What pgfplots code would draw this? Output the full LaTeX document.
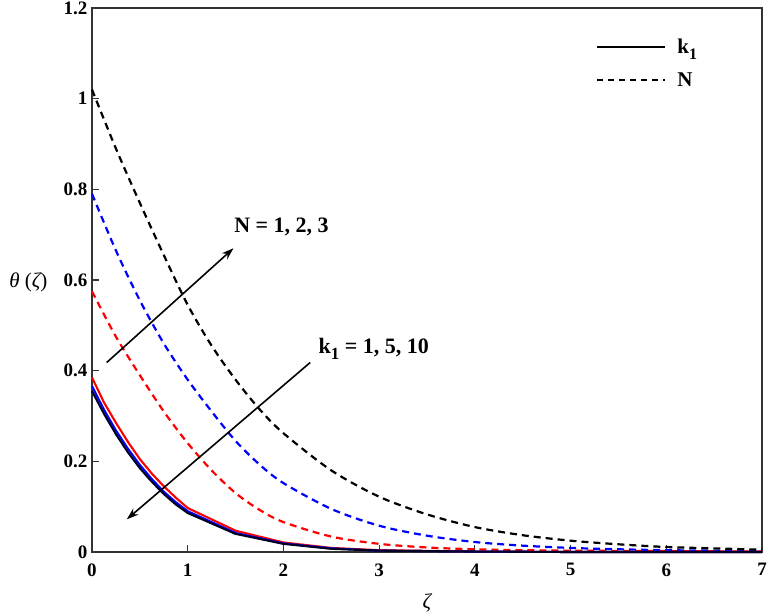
\documentclass[border=0pt]{standalone}
\usepackage{fontspec}
\setmainfont{Liberation Serif}
\usepackage{pgfplots}
\pgfplotsset{compat=1.18}
\usetikzlibrary{arrows.meta}
\definecolor{myblue}{RGB}{0,0,255}
\definecolor{myred}{RGB}{255,0,0}
\begin{document}
\begin{tikzpicture}
\begin{axis}[
  width=670bp, height=544bp, scale only axis,
  xmin=0, xmax=7, ymin=0, ymax=1.2,
  xtick={0,1,...,7}, ytick={0,0.2,...,1.2},
  yticklabels={0,0.2,0.4,0.6,0.8,1,1.2},
  tick align=inside, xtick pos=bottom, ytick pos=left,
  major tick length=7bp,
  axis line style={line width=1.4bp, black!80},
  every tick/.style={line width=1.2bp, black!80},
  /pgf/number format/assume math mode=true,
  ticklabel style={font=\fontsize{19bp}{21bp}\selectfont\bfseries},
  xticklabel style={yshift=-8bp},
  yticklabel style={xshift=-1bp},
  xlabel={\fontsize{21bp}{23bp}\selectfont\itshape ζ},
  xlabel style={at={(rel axis cs:0.5,0)}, anchor=north, yshift=-38bp},
  ylabel={\fontsize{21bp}{23bp}\selectfont{\itshape θ} ({\itshape ζ})},
  ylabel style={rotate=-90, at={(rel axis cs:0,0.5)}, anchor=east, xshift=-41bp, yshift=-2bp},
  clip=false,
  legend style={draw=none, fill=none, at={(rel axis cs:0.748,0.950)}, anchor=north west,
    font=\fontsize{21bp}{23bp}\selectfont\bfseries, row sep=13bp},
  legend cell align=left,
  legend image code/.code={\draw[#1] (0bp,0bp) -- (68bp,0bp);},
]
\addlegendimage{black, solid, line width=2bp}
\addlegendentry{\hspace{9bp}k\raisebox{-0.55ex}{\fontsize{16bp}{17bp}\selectfont 1}}
\addlegendimage{black, line width=2bp, dash pattern=on 6bp off 5bp}
\addlegendentry{\hspace{9bp}N}
% dashed: N = 1,2,3
\addplot[myred, line width=2.2bp, dash pattern=on 7bp off 5bp, smooth] coordinates {
(0,0.575) (0.25,0.475) (0.5,0.39) (0.75,0.31) (1,0.24) (1.25,0.18) (1.5,0.13) (1.75,0.093) (2,0.066) (2.5,0.034) (3,0.018) (3.5,0.01) (4,0.006) (4.5,0.004) (5,0.003) (6,0.002) (7,0.001)};
\addplot[myblue, line width=2.2bp, dash pattern=on 7bp off 5bp, smooth] coordinates {
(0,0.79) (0.25,0.665) (0.5,0.555) (0.75,0.46) (1,0.38) (1.25,0.31) (1.5,0.245) (1.75,0.193) (2,0.152) (2.5,0.095) (3,0.058) (3.5,0.036) (4,0.022) (4.5,0.014) (5,0.009) (5.5,0.006) (6,0.004) (6.5,0.003) (7,0.002)};
\addplot[black, line width=2.2bp, dash pattern=on 7bp off 5bp, smooth] coordinates {
(0,1.02) (0.25,0.89) (0.5,0.77) (0.75,0.655) (1,0.545) (1.25,0.455) (1.5,0.38) (1.75,0.315) (2,0.262) (2.5,0.18) (3,0.122) (3.5,0.083) (4,0.055) (4.5,0.037) (5,0.025) (5.5,0.017) (6,0.011) (6.5,0.008) (7,0.005)};
% solid: k1 = 1,5,10
\addplot[myred, line width=2.1bp] coordinates {
(0,0.385) (0.125,0.33) (0.25,0.285) (0.375,0.243) (0.5,0.205) (0.625,0.173) (0.75,0.145) (0.875,0.12) (1,0.097) (1.5,0.047) (2,0.021) (2.5,0.009) (3,0.004) (4,0.001) (5,0) (7,0)};
\addplot[myblue, line width=2.1bp] coordinates {
(0,0.366) (0.125,0.314) (0.25,0.268) (0.375,0.228) (0.5,0.192) (0.625,0.161) (0.75,0.133) (0.875,0.11) (1,0.09) (1.5,0.042) (2,0.019) (2.5,0.008) (3,0.003) (4,0.001) (5,0) (7,0)};
\addplot[black!85!blue, line width=2.1bp] coordinates {
(0,0.355) (0.125,0.305) (0.25,0.26) (0.375,0.22) (0.5,0.185) (0.625,0.155) (0.75,0.128) (0.875,0.105) (1,0.086) (1.5,0.04) (2,0.018) (2.5,0.007) (3,0.003) (4,0.001) (5,0) (7,0)};
% annotations
\draw[line width=1.6bp, -{Stealth[length=12bp,width=8bp]}] (axis cs:0.154,0.418) -- (axis cs:1.478,0.670);
\node[font=\fontsize{22bp}{24bp}\selectfont\bfseries, anchor=center] at (axis cs:1.98,0.718) {N = 1, 2, 3};
\draw[line width=1.6bp, -{Stealth[length=12bp,width=8bp]}] (axis cs:2.28,0.418) -- (axis cs:0.363,0.072);
\node[font=\fontsize{22bp}{24bp}\selectfont\bfseries, anchor=west] at (axis cs:2.33,0.448) {k\raisebox{-0.55ex}{\fontsize{17bp}{18bp}\selectfont 1} = 1, 5, 10};
\coordinate (O) at (rel axis cs:0,0);
\end{axis}
\pgfresetboundingbox
\path (O) ++(-92bp,-60bp) rectangle ++(772bp,612bp);
\end{tikzpicture}
\end{document}
